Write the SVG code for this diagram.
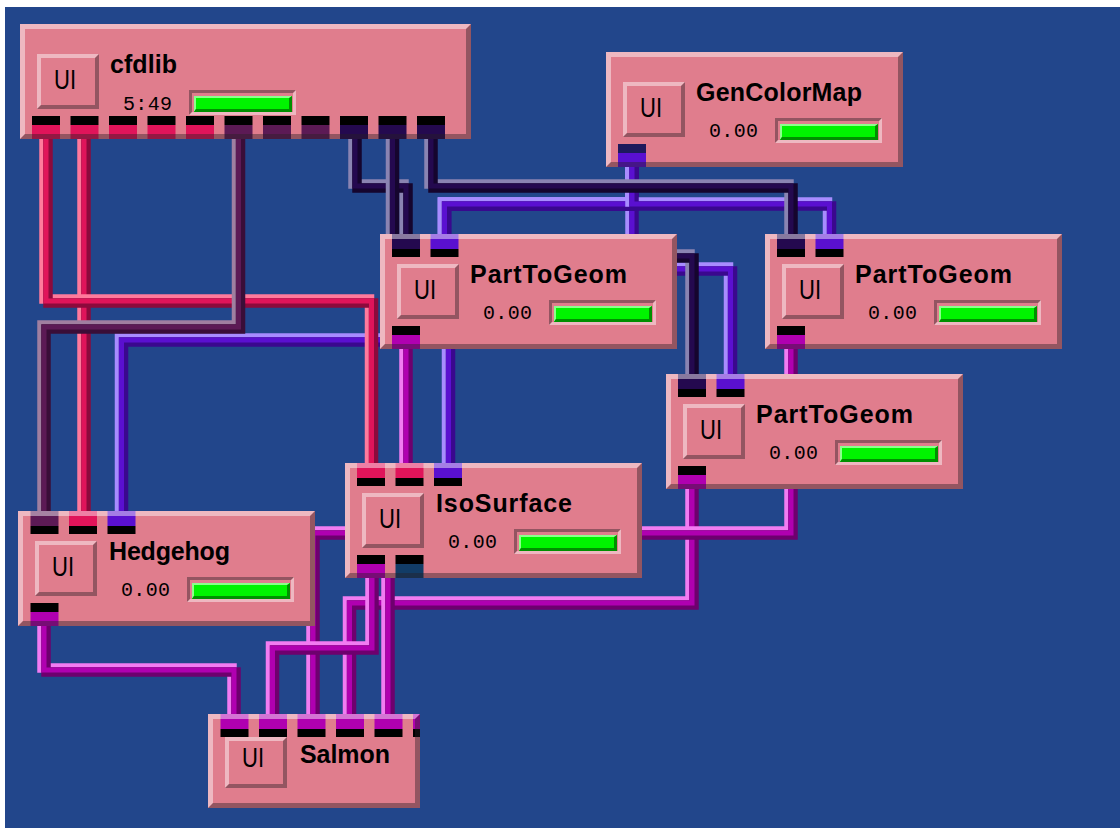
<svg xmlns="http://www.w3.org/2000/svg" width="1120" height="830" viewBox="0 0 1120 830">
<style>
.bg{fill:#22468B}
.body{fill:#E07D8D}
.hi{fill:#fff;fill-opacity:.46}
.lo{fill:rgb(40,30,35);fill-opacity:.42}
.red{fill:#E0145A}.pur{fill:#5C1A55}.nav{fill:#24094F}.vio{fill:#5A10D0}.mag{fill:#B000B0}.teal{fill:#123C66}
.gcore{fill:#00F400}.ghi{fill:#8CFF8C}.glo{fill:#009000}
.title{font-family:"Liberation Sans",Arial,Helvetica,sans-serif;font-weight:bold;font-size:25px;fill:#000}
.num{font-family:"Liberation Mono","DejaVu Sans Mono",monospace;font-size:20px;fill:#000}
.ui{font-family:"Liberation Sans",Arial,sans-serif;font-size:27px;fill:#000}
.w use{fill:none;stroke-linejoin:miter;stroke-miterlimit:10}
.w .l,.w .d{stroke-width:9.5}
.w .c{stroke-width:5}
.wr .l{stroke:#FF7A9C}.wr .c{stroke:#E0145A}.wr .d{stroke:#8C0A3C}
.wp .l{stroke:#A07FA0}.wp .c{stroke:#5C1A55}.wp .d{stroke:#3A0E38}
.wn .l{stroke:#8A84B2}.wn .c{stroke:#24094F}.wn .d{stroke:#15052E}
.wv .l{stroke:#A88CFF}.wv .c{stroke:#5A10D0}.wv .d{stroke:#3A088E}
.wm .l{stroke:#F27CF2}.wm .c{stroke:#B000B0}.wm .d{stroke:#6E006E}
</style>
<defs>
<g id="btn"><polygon class="hi" points="0,0 62,0 58,4 4,4 4,51 0,55"/><polygon class="lo" points="62,0 62,55 0,55 4,51 58,51 58,4"/></g>
<g id="btns"><polygon class="hi" points="0,0 62,0 58,4 4,4 4,47 0,51"/><polygon class="lo" points="62,0 62,51 0,51 4,47 58,47 58,4"/></g>
<g id="bar"><polygon class="lo" points="0,0 107,0 104,3 3,3 3,22 0,25"/><polygon class="hi" points="107,0 107,25 0,25 3,22 104,22 104,3"/><rect class="gcore" x="5" y="6" width="98" height="16"/><polygon class="ghi" points="5,6 103,6 101,8 7,8 7,19 5,22"/><polygon class="glo" points="103,6 103,22 5,22 7,19 100,19 100,8"/></g>
<g id="op"><rect y="92" width="28" height="9" fill="#000"/><rect y="101" width="28" height="14"/></g>
<g id="ip"><rect width="28" height="15"/><rect y="15" width="28" height="8" fill="#000"/></g>
<polygon id="hi297" class="hi" points="0,0 297,0 292,5 5,5 5,110 0,115"/>
<polygon id="lo297" class="lo" points="297,0 297,115 0,115 5,110 292,110 292,5"/>
<path id="wv3" d="M632 160V269H730.5V380"/>
<path id="wv5" d="M632 160V204H444.5V340H121.5V518"/>
<path id="wv4" d="M632 160V204H444.5V300H448.5V470"/>
<path id="wv1" d="M632 160V204H444.5V240"/>
<path id="wv2" d="M632 160V204H829.5V240"/>
<path id="wn1" d="M355 132V186H406V240"/>
<path id="wn2" d="M392.5 132V256H692V380"/>
<path id="wn3" d="M431 132V186H791V240"/>
<path id="wr2" d="M84 132V518"/>
<path id="wr1" d="M46 132V301H371.5V470"/>
<path id="wp1" d="M238.5 132V327H44V518"/>
<path id="wm1" d="M44 620V670H234V720"/>
<path id="wm4" d="M692 482V603H349.5V720"/>
<path id="wm3" d="M791 342V533H313V720"/>
<path id="wm2" d="M372 572V648H272.5V720"/>
<path id="wm5" d="M406 342V520H388V720"/>
</defs>

<rect width="1120" height="830" fill="#fff"/>
<rect class="bg" x="5" y="7" width="1115" height="821"/>

<g id="connectors">
<g class="w wv"><use href="#wv3" class="l" transform="translate(-2 -2)"/><use href="#wv3" class="d" transform="translate(2 2)"/><use href="#wv3" class="c"/></g>
<g class="w wv"><use href="#wv5" class="l" transform="translate(-2 -2)"/><use href="#wv5" class="d" transform="translate(2 2)"/><use href="#wv5" class="c"/></g>
<g class="w wv"><use href="#wv4" class="l" transform="translate(-2 -2)"/><use href="#wv4" class="d" transform="translate(2 2)"/><use href="#wv4" class="c"/></g>
<g class="w wv"><use href="#wv1" class="l" transform="translate(-2 -2)"/><use href="#wv1" class="d" transform="translate(2 2)"/><use href="#wv1" class="c"/></g>
<g class="w wv"><use href="#wv2" class="l" transform="translate(-2 -2)"/><use href="#wv2" class="d" transform="translate(2 2)"/><use href="#wv2" class="c"/></g>
<g class="w wn"><use href="#wn1" class="l" transform="translate(-2 -2)"/><use href="#wn1" class="d" transform="translate(2 2)"/><use href="#wn1" class="c"/></g>
<g class="w wn"><use href="#wn2" class="l" transform="translate(-2 -2)"/><use href="#wn2" class="d" transform="translate(2 2)"/><use href="#wn2" class="c"/></g>
<g class="w wn"><use href="#wn3" class="l" transform="translate(-2 -2)"/><use href="#wn3" class="d" transform="translate(2 2)"/><use href="#wn3" class="c"/></g>
<g class="w wr"><use href="#wr2" class="l" transform="translate(-2 -2)"/><use href="#wr2" class="d" transform="translate(2 2)"/><use href="#wr2" class="c"/></g>
<g class="w wr"><use href="#wr1" class="l" transform="translate(-2 -2)"/><use href="#wr1" class="d" transform="translate(2 2)"/><use href="#wr1" class="c"/></g>
<g class="w wp"><use href="#wp1" class="l" transform="translate(-2 -2)"/><use href="#wp1" class="d" transform="translate(2 2)"/><use href="#wp1" class="c"/></g>
<g class="w wm"><use href="#wm1" class="l" transform="translate(-2 -2)"/><use href="#wm1" class="d" transform="translate(2 2)"/><use href="#wm1" class="c"/></g>
<g class="w wm"><use href="#wm4" class="l" transform="translate(-2 -2)"/><use href="#wm4" class="d" transform="translate(2 2)"/><use href="#wm4" class="c"/></g>
<g class="w wm"><use href="#wm3" class="l" transform="translate(-2 -2)"/><use href="#wm3" class="d" transform="translate(2 2)"/><use href="#wm3" class="c"/></g>
<g class="w wm"><use href="#wm2" class="l" transform="translate(-2 -2)"/><use href="#wm2" class="d" transform="translate(2 2)"/><use href="#wm2" class="c"/></g>
<g class="w wm"><use href="#wm5" class="l" transform="translate(-2 -2)"/><use href="#wm5" class="d" transform="translate(2 2)"/><use href="#wm5" class="c"/></g>
</g>

<g id="node-cfdlib" transform="translate(20,24)">
<rect class="body" width="451" height="115"/>
<use href="#op" x="12" class="red"/><use href="#op" x="50.5" class="red"/><use href="#op" x="89" class="red"/><use href="#op" x="127.5" class="red"/><use href="#op" x="166" class="red"/>
<use href="#op" x="204.5" class="pur"/><use href="#op" x="243" class="pur"/><use href="#op" x="281.5" class="pur"/>
<use href="#op" x="320" class="nav"/><use href="#op" x="358.5" class="nav"/><use href="#op" x="397" class="nav"/>
<polygon class="hi" points="0,0 451,0 446,5 5,5 5,110 0,115"/>
<polygon class="lo" points="451,0 451,115 0,115 5,110 446,110 446,5"/>
<use href="#btn" x="17" y="30"/>
<text class="ui" x="34" y="64.5" textLength="22" lengthAdjust="spacingAndGlyphs">UI</text>
<text class="title" x="90" y="49" textLength="67">cfdlib</text>
<text class="num" x="103" y="86" textLength="49">5:49</text>
<use href="#bar" x="169" y="66"/>
</g>

<g id="node-gencolormap" transform="translate(606,52)">
<rect class="body" width="297" height="115"/>
<rect x="12" y="92" width="28" height="9" fill="#1E1A5C"/><rect class="vio" x="12" y="101" width="28" height="14"/>
<use href="#hi297"/><use href="#lo297"/>
<use href="#btn" x="17" y="30"/>
<text class="ui" x="34" y="64.5" textLength="22" lengthAdjust="spacingAndGlyphs">UI</text>
<text class="title" x="90" y="49" textLength="166">GenColorMap</text>
<text class="num" x="103" y="85" textLength="49">0.00</text>
<use href="#bar" x="169" y="66"/>
</g>

<g id="node-parttogeom1" transform="translate(380,234)">
<rect class="body" width="297" height="115"/>
<use href="#ip" x="12" class="nav"/><use href="#ip" x="50.5" class="vio"/>
<use href="#op" x="12" class="mag"/>
<use href="#hi297"/><use href="#lo297"/>
<use href="#btn" x="17" y="30"/>
<text class="ui" x="34" y="64.5" textLength="22" lengthAdjust="spacingAndGlyphs">UI</text>
<text class="title" x="90" y="49" textLength="157">PartToGeom</text>
<text class="num" x="103" y="85" textLength="49">0.00</text>
<use href="#bar" x="169" y="66"/>
</g>

<g id="node-parttogeom2" transform="translate(765,234)">
<rect class="body" width="297" height="115"/>
<use href="#ip" x="12" class="nav"/><use href="#ip" x="50.5" class="vio"/>
<use href="#op" x="12" class="mag"/>
<use href="#hi297"/><use href="#lo297"/>
<use href="#btn" x="17" y="30"/>
<text class="ui" x="34" y="64.5" textLength="22" lengthAdjust="spacingAndGlyphs">UI</text>
<text class="title" x="90" y="49" textLength="157">PartToGeom</text>
<text class="num" x="103" y="85" textLength="49">0.00</text>
<use href="#bar" x="169" y="66"/>
</g>

<g id="node-parttogeom3" transform="translate(666,374)">
<rect class="body" width="297" height="115"/>
<use href="#ip" x="12" class="nav"/><use href="#ip" x="50.5" class="vio"/>
<use href="#op" x="12" class="mag"/>
<use href="#hi297"/><use href="#lo297"/>
<use href="#btn" x="17" y="30"/>
<text class="ui" x="34" y="64.5" textLength="22" lengthAdjust="spacingAndGlyphs">UI</text>
<text class="title" x="90" y="49" textLength="157">PartToGeom</text>
<text class="num" x="103" y="85" textLength="49">0.00</text>
<use href="#bar" x="169" y="66"/>
</g>

<g id="node-isosurface" transform="translate(345,463)">
<rect class="body" width="297" height="115"/>
<use href="#ip" x="12" class="red"/><use href="#ip" x="50.5" class="red"/><use href="#ip" x="89" class="vio"/>
<use href="#op" x="12" class="mag"/><use href="#op" x="50.5" class="teal"/>
<use href="#hi297"/><use href="#lo297"/>
<use href="#btn" x="17" y="30"/>
<text class="ui" x="34" y="64.5" textLength="22" lengthAdjust="spacingAndGlyphs">UI</text>
<text class="title" x="91" y="49" textLength="136">IsoSurface</text>
<text class="num" x="103" y="85" textLength="49">0.00</text>
<use href="#bar" x="169" y="66"/>
</g>

<g id="node-hedgehog" transform="translate(18,511)">
<rect class="body" width="297" height="115"/>
<use href="#ip" x="12.5" class="pur"/><use href="#ip" x="51" class="red"/><use href="#ip" x="89.5" class="vio"/>
<use href="#op" x="12.5" class="mag"/>
<use href="#hi297"/><use href="#lo297"/>
<use href="#btn" x="17" y="30"/>
<text class="ui" x="34" y="64.5" textLength="22" lengthAdjust="spacingAndGlyphs">UI</text>
<text class="title" x="91" y="49" textLength="121">Hedgehog</text>
<text class="num" x="103" y="85" textLength="49">0.00</text>
<use href="#bar" x="169" y="66"/>
</g>

<g id="node-salmon" transform="translate(208,714)">
<rect class="body" width="212" height="94"/>
<use href="#ip" x="12.5" class="mag"/><use href="#ip" x="51" class="mag"/><use href="#ip" x="89.5" class="mag"/><use href="#ip" x="128" class="mag"/><use href="#ip" x="166.5" class="mag"/>
<rect class="mag" x="205" y="0" width="7" height="15"/><rect x="205" y="15" width="7" height="8" fill="#000"/>
<polygon class="hi" points="0,0 212,0 207,5 5,5 5,89 0,94"/>
<polygon class="lo" points="212,0 212,94 0,94 5,89 207,89 207,5"/>
<use href="#btns" x="17" y="23"/>
<text class="ui" x="34" y="53" textLength="22" lengthAdjust="spacingAndGlyphs">UI</text>
<text class="title" x="92" y="49" textLength="90">Salmon</text>
</g>
</svg>
